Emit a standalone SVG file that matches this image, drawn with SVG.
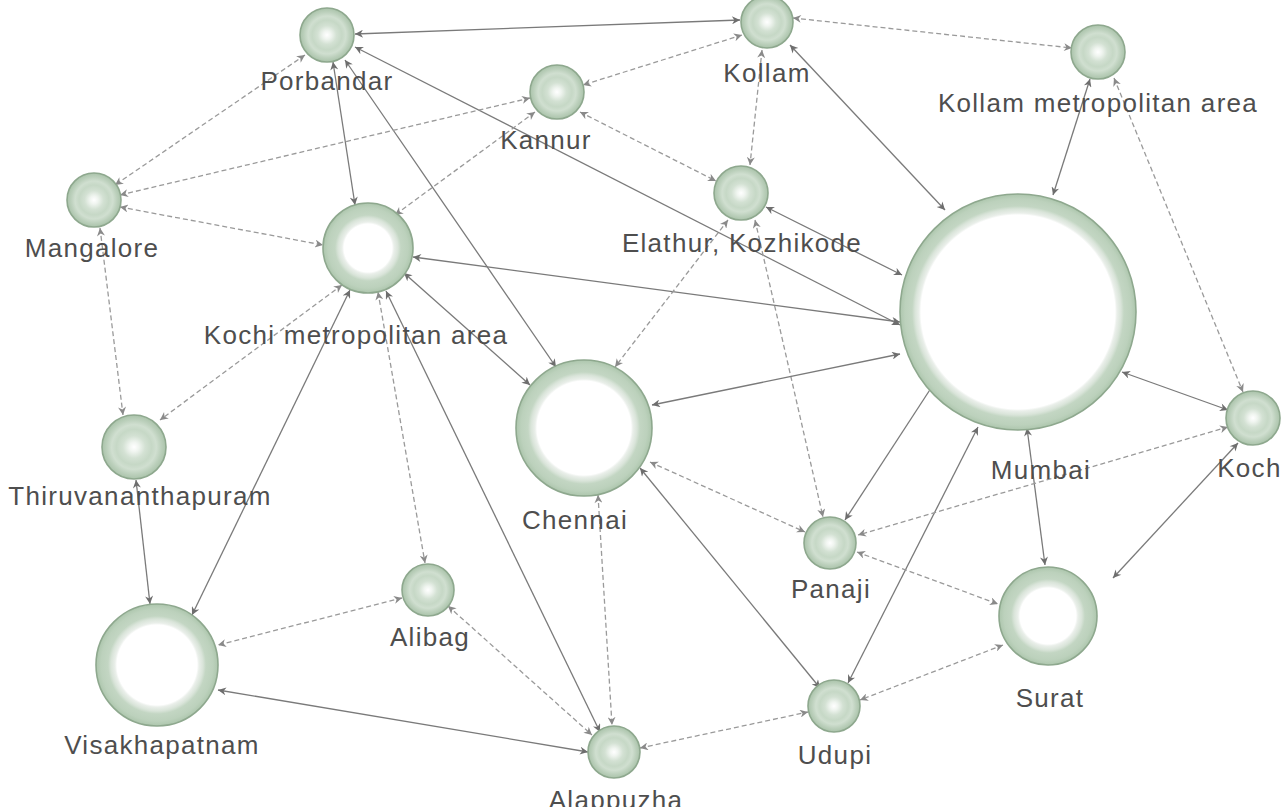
<svg xmlns="http://www.w3.org/2000/svg" width="1281" height="807" viewBox="0 0 1281 807">
<style>
.e{fill:none;stroke:#7a7a7a;stroke-width:1.3;marker-start:url(#as);marker-end:url(#as)}
.d{fill:none;stroke:#9a9a9a;stroke-width:1.3;stroke-dasharray:5 3;marker-start:url(#ad);marker-end:url(#ad)}
.n{stroke:#8ea88e;stroke-width:1.6}
.s{fill:url(#gs)}
text{font-family:"Liberation Sans",Arial,sans-serif;font-size:26px;letter-spacing:1.3px;fill:#4e4e4e;text-anchor:middle}
</style>
<defs>
<marker id="as" viewBox="0 0 10 10" refX="10" refY="5" markerWidth="9" markerHeight="8" markerUnits="userSpaceOnUse" orient="auto-start-reverse"><path d="M0,0 L10,5 L0,10 L3,5 Z" fill="#6e6e6e"/></marker>
<marker id="ad" viewBox="0 0 10 10" refX="10" refY="5" markerWidth="9" markerHeight="8" markerUnits="userSpaceOnUse" orient="auto-start-reverse"><path d="M0,0 L10,5 L0,10 L3,5 Z" fill="#8a8a8a"/></marker>
<radialGradient id="gs"><stop offset="0" stop-color="#ffffff"/><stop offset="0.15" stop-color="#f0f5f0"/><stop offset="0.35" stop-color="#d3e1d3"/><stop offset="0.55" stop-color="#c6d8c6"/><stop offset="0.7" stop-color="#d0dfd0"/><stop offset="0.85" stop-color="#bcd0bc"/><stop offset="1" stop-color="#aac3aa"/></radialGradient>
<radialGradient id="gMu"><stop offset="0" stop-color="#fff"/><stop offset="0.822" stop-color="#fff"/><stop offset="0.839" stop-color="#eaefea"/><stop offset="0.873" stop-color="#d9e4d9"/><stop offset="0.898" stop-color="#c3d6c3"/><stop offset="0.958" stop-color="#bcd1bc"/><stop offset="1" stop-color="#adc6ad"/></radialGradient>
<radialGradient id="gC"><stop offset="0" stop-color="#fff"/><stop offset="0.691" stop-color="#fff"/><stop offset="0.721" stop-color="#eaefea"/><stop offset="0.779" stop-color="#d9e4d9"/><stop offset="0.824" stop-color="#c3d6c3"/><stop offset="0.926" stop-color="#bcd1bc"/><stop offset="1" stop-color="#adc6ad"/></radialGradient>
<radialGradient id="gV"><stop offset="0" stop-color="#fff"/><stop offset="0.656" stop-color="#fff"/><stop offset="0.689" stop-color="#eaefea"/><stop offset="0.754" stop-color="#d9e4d9"/><stop offset="0.803" stop-color="#c3d6c3"/><stop offset="0.918" stop-color="#bcd1bc"/><stop offset="1" stop-color="#adc6ad"/></radialGradient>
<radialGradient id="gS"><stop offset="0" stop-color="#fff"/><stop offset="0.571" stop-color="#fff"/><stop offset="0.612" stop-color="#eaefea"/><stop offset="0.694" stop-color="#d9e4d9"/><stop offset="0.755" stop-color="#c3d6c3"/><stop offset="0.898" stop-color="#bcd1bc"/><stop offset="1" stop-color="#adc6ad"/></radialGradient>
<radialGradient id="gK"><stop offset="0" stop-color="#fff"/><stop offset="0.533" stop-color="#fff"/><stop offset="0.578" stop-color="#eaefea"/><stop offset="0.667" stop-color="#d9e4d9"/><stop offset="0.733" stop-color="#c3d6c3"/><stop offset="0.889" stop-color="#bcd1bc"/><stop offset="1" stop-color="#adc6ad"/></radialGradient>
</defs>
<rect width="1281" height="807" fill="#ffffff"/>
<g id="connectors">
<line class="e" x1="355" y1="34" x2="740" y2="20"/>
<line class="d" x1="793" y1="18" x2="1072" y2="48"/>
<line class="d" x1="742" y1="35" x2="583" y2="85"/>
<line class="d" x1="762" y1="50" x2="750" y2="165"/>
<line class="e" x1="790" y1="45" x2="945" y2="210"/>
<line class="d" x1="305" y1="55" x2="115" y2="185"/>
<line class="e" x1="333" y1="62" x2="355" y2="205"/>
<line class="e" x1="345" y1="60" x2="556" y2="367"/>
<line class="e" x1="355" y1="47" x2="900" y2="325"/>
<line class="d" x1="530" y1="98" x2="120" y2="195"/>
<line class="d" x1="535" y1="112" x2="395" y2="215"/>
<line class="d" x1="580" y1="112" x2="716" y2="181"/>
<line class="d" x1="120" y1="207" x2="323" y2="245"/>
<line class="d" x1="100" y1="228" x2="123" y2="415"/>
<line class="d" x1="342" y1="285" x2="160" y2="420"/>
<line class="e" x1="350" y1="290" x2="192" y2="615"/>
<line class="d" x1="378" y1="292" x2="425" y2="563"/>
<line class="e" x1="386" y1="291" x2="600" y2="732"/>
<line class="e" x1="404" y1="273" x2="530" y2="385"/>
<line class="e" x1="413" y1="257" x2="900" y2="322"/>
<line class="d" x1="728" y1="220" x2="615" y2="367"/>
<line class="d" x1="755" y1="220" x2="823" y2="517"/>
<line class="e" x1="766" y1="207" x2="902" y2="275"/>
<line class="e" x1="1090" y1="79" x2="1053" y2="195"/>
<line class="d" x1="1114" y1="78" x2="1243" y2="392"/>
<line class="e" x1="900" y1="354" x2="652" y2="405"/>
<line class="e" x1="1122" y1="372" x2="1228" y2="410"/>
<line class="e" x1="935" y1="382" x2="845" y2="520"/>
<line class="e" x1="978" y1="427" x2="848" y2="683"/>
<line class="e" x1="1027" y1="428" x2="1045" y2="565"/>
<line class="d" x1="1228" y1="427" x2="858" y2="535"/>
<line class="e" x1="1238" y1="443" x2="1113" y2="578"/>
<line class="d" x1="650" y1="462" x2="805" y2="532"/>
<line class="e" x1="640" y1="468" x2="820" y2="688"/>
<line class="d" x1="598" y1="495" x2="612" y2="725"/>
<line class="d" x1="857" y1="552" x2="998" y2="604"/>
<line class="d" x1="1003" y1="645" x2="860" y2="700"/>
<line class="d" x1="640" y1="748" x2="808" y2="712"/>
<line class="d" x1="448" y1="606" x2="592" y2="735"/>
<line class="d" x1="402" y1="598" x2="218" y2="645"/>
<line class="e" x1="218" y1="690" x2="588" y2="752"/>
<line class="e" x1="136" y1="480" x2="150" y2="604"/>
</g>
<g id="porbandar"><circle class="n s" cx="327" cy="35" r="27"/><text x="327" y="90">Porbandar</text></g>
<g id="kollam"><circle class="n s" cx="767" cy="22" r="26"/><text x="767" y="82">Kollam</text></g>
<g id="kollam-metro"><circle class="n s" cx="1098" cy="52" r="27"/><text x="1098" y="112">Kollam metropolitan area</text></g>
<g id="kannur"><circle class="n s" cx="557" cy="92" r="27"/><text x="546" y="149">Kannur</text></g>
<g id="mangalore"><circle class="n s" cx="94" cy="200" r="27"/><text x="92" y="257">Mangalore</text></g>
<g id="elathur"><circle class="n s" cx="741" cy="193" r="27"/><text x="742" y="252">Elathur, Kozhikode</text></g>
<g id="kochi-metro"><circle class="n" fill="url(#gK)" cx="368" cy="248" r="45"/><text x="356" y="344">Kochi metropolitan area</text></g>
<g id="mumbai"><circle class="n" fill="url(#gMu)" cx="1018" cy="312" r="118"/><text x="1041" y="479">Mumbai</text></g>
<g id="chennai"><circle class="n" fill="url(#gC)" cx="584" cy="428" r="68"/><text x="575" y="529">Chennai</text></g>
<g id="thiruvananthapuram"><circle class="n s" cx="134" cy="447" r="32"/><text x="140" y="505">Thiruvananthapuram</text></g>
<g id="kochi"><circle class="n s" cx="1253" cy="418" r="27"/><text x="1253" y="477">Kochi</text></g>
<g id="panaji"><circle class="n s" cx="830" cy="543" r="26"/><text x="831" y="598">Panaji</text></g>
<g id="surat"><circle class="n" fill="url(#gS)" cx="1048" cy="616" r="49"/><text x="1050" y="707">Surat</text></g>
<g id="alibag"><circle class="n s" cx="428" cy="590" r="26"/><text x="430" y="646">Alibag</text></g>
<g id="visakhapatnam"><circle class="n" fill="url(#gV)" cx="157" cy="665" r="61"/><text x="162" y="754">Visakhapatnam</text></g>
<g id="alappuzha"><circle class="n s" cx="614" cy="752" r="26"/><text x="616" y="809">Alappuzha</text></g>
<g id="udupi"><circle class="n s" cx="834" cy="706" r="26"/><text x="835" y="764">Udupi</text></g>
</svg>
